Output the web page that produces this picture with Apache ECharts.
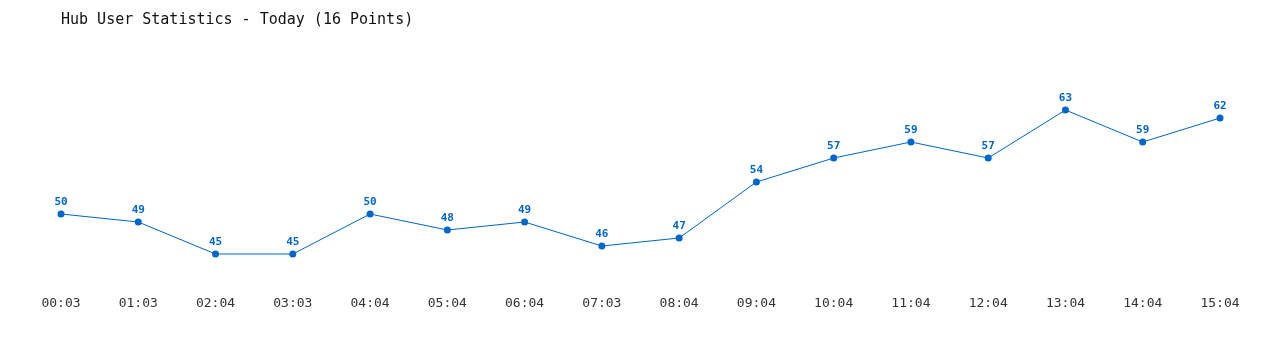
<!DOCTYPE html>
<html><head><meta charset="utf-8">
<script src="https://cdn.jsdelivr.net/npm/echarts@6/dist/echarts.min.js"></script>
<style>html,body{margin:0;padding:0;background:#fff}#c{width:1280px;height:350px}</style>
</head><body><div id="c"></div>
<script>
const categories = ["00:03","01:03","02:04","03:03","04:04","05:04","06:04","07:03","08:04","09:04","10:04","11:04","12:04","13:04","14:04","15:04"];
const users = [50,49,45,45,50,48,49,46,47,54,57,59,57,63,59,62];
const titleText = "Hub User Statistics - Today (16 Points)";
const mono = "'DejaVu Sans Mono', 'Liberation Mono', monospace";
const chart = echarts.init(document.getElementById('c'));
chart.setOption({
  animation: false,
  backgroundColor: '#fff',
  title: { text: titleText, left: 56, top: 8, textStyle: { fontFamily: mono, fontSize: 15, fontWeight: 'normal', color: '#111' } },
  grid: { left: 61, right: 60, top: 54, bottom: 56 },
  xAxis: { type: 'category', data: categories, boundaryGap: false,
    axisLine: { show: false }, axisTick: { show: false }, splitLine: { show: false },
    axisLabel: { margin: 3, fontFamily: mono, fontSize: 13, color: '#333', interval: 0 } },
  yAxis: { type: 'value', min: 40, max: 70, show: false, splitLine: { show: false } },
  series: [{ type: 'line', data: users, symbol: 'circle', symbolSize: 7,
    lineStyle: { color: '#0066cc', width: 1 }, itemStyle: { color: '#0066cc' },
    label: { show: true, position: 'top', distance: 3, fontFamily: mono, fontSize: 11, fontWeight: 'bold', color: '#0066cc' } }]
});
</script></body></html>
